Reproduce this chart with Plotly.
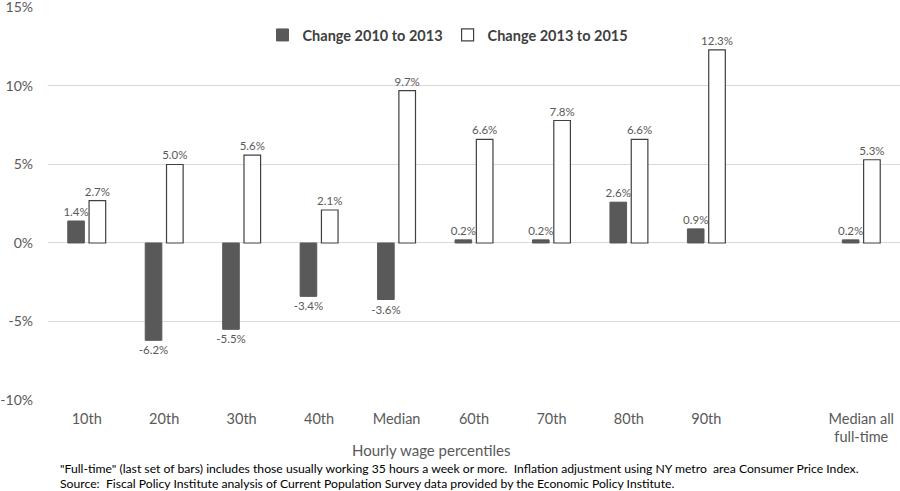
import plotly.graph_objects as go

categories = ["10th", "20th", "30th", "40th", "Median", "60th", "70th", "80th", "90th", " ", "Median all<br>full-time"]
change_2010_2013 = [1.4, -6.2, -5.5, -3.4, -3.6, 0.2, 0.2, 2.6, 0.9, None, 0.2]
change_2013_2015 = [2.7, 5.0, 5.6, 2.1, 9.7, 6.6, 7.8, 6.6, 12.3, None, 5.3]
y_ticks = [-10, -5, 0, 5, 10, 15]
y_tick_labels = ["-10%", "-5%", "0%", "5%", "10%", "15%"]

FONT = "Lato, Calibri, sans-serif"
label_font = dict(family=FONT, size=11.5, color="#595959")

T, B, L = 7, 91, 48
PH = 491 - T - B
PW = 900 - L

def px_y(py):
    return (491 - B - py) / PH

def px_x(px):
    return (px - L) / PW

def labels(vals):
    return [("" if v is None else f"{v:.1f}%") for v in vals]

fig = go.Figure()
fig.add_trace(go.Bar(
    name="Change 2010 to 2013", x=categories, y=change_2010_2013,
    marker=dict(color="#595959", line=dict(color="#595959", width=1)),
    text=labels(change_2010_2013), textposition="outside", textfont=label_font,
    cliponaxis=False, constraintext="none",
))
fig.add_trace(go.Bar(
    name="Change 2013 to 2015", x=categories, y=change_2013_2015,
    marker=dict(color="white", line=dict(color="#404040", width=1.2)),
    text=labels(change_2013_2015), textposition="outside", textfont=label_font,
    cliponaxis=False, constraintext="none",
))

fig.update_layout(
    width=900, height=491,
    margin=dict(l=L, r=0, t=T, b=B),
    paper_bgcolor="white", plot_bgcolor="white",
    barmode="group", bargap=0.45, bargroupgap=0.22,
    font=dict(family=FONT, color="#595959"),
    showlegend=True,
    legend=dict(orientation="h", x=px_x(448), xanchor="center", y=px_y(35), yanchor="middle",
                font=dict(family=FONT, size=14.5, color="#404040", weight="bold"),
                bgcolor="rgba(0,0,0,0)", traceorder="normal", itemwidth=30),
)
fig.update_xaxes(
    type="category", categoryorder="array", categoryarray=categories,
    tickfont=dict(family=FONT, size=14.5, color="#595959"),
    showgrid=False, showline=False, ticks="", automargin=False, ticklabelstandoff=8,
)
fig.update_yaxes(
    range=[-10, 15.03], tickvals=y_ticks, ticktext=y_tick_labels,
    tickfont=dict(family=FONT, size=14, color="#595959"),
    showgrid=True, gridcolor="#d9d9d9", gridwidth=1,
    zeroline=True, zerolinecolor="#d9d9d9", zerolinewidth=1,
    showline=False, ticks="", ticklabelstandoff=14, automargin=False,
    ticklabeloverflow="allow",
)

fig.add_annotation(text="Hourly wage percentiles", xref="paper", yref="paper",
                   x=px_x(431), xanchor="center", y=px_y(450), yanchor="middle", showarrow=False,
                   font=dict(family=FONT, size=15, color="#595959"))

notes = [
    '"Full-time" (last set of bars) includes those usually working 35 hours a week or more.  Inflation adjustment using NY metro  area Consumer Price Index.',
    'Source:  Fiscal Policy Institute analysis of Current Population Survey data provided by the Economic Policy Institute.',
]
for i, t in enumerate(notes):
    fig.add_annotation(text=t, xref="paper", yref="paper", x=px_x(58), xanchor="left",
                       y=px_y(468 + 16 * i), yanchor="middle", showarrow=False,
                       font=dict(family=FONT, size=12.2, color="#000000"))

fig.write_html("out.html", config={"displayModeBar": False},
               post_script="document.body.style.margin='0';document.body.style.overflow='hidden';")
